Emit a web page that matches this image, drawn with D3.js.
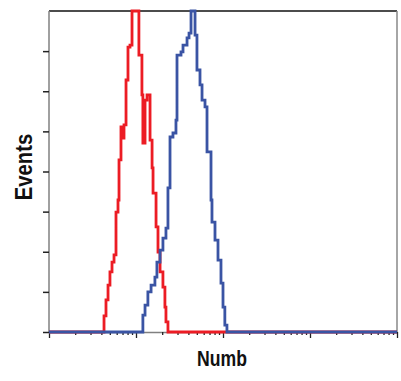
<!DOCTYPE html>
<html>
<head>
<meta charset="utf-8">
<script src="https://cdn.jsdelivr.net/npm/d3@7"></script>
<style>
  body { margin: 0; background: #fff; }
  svg { display: block; }
  .lbl { font-family: "Liberation Sans Narrow", "Liberation Sans", Arial, sans-serif; font-weight: bold; font-size: 22px; fill: #111; }
</style>
</head>
<body>
<figure id="hist" style="margin:0"></figure>
<script>
// channel values (start of each step) and event counts
const redChannel = [1, 4.29, 4.52, 4.77, 5.02, 5.30, 5.59, 5.89, 6.21, 6.38, 6.72, 7.09, 7.28, 7.68, 8.09, 8.53, 9.00,
  10.8, 11.7, 12.0, 12.7, 13.4, 14.5, 15.3, 15.7, 17.0, 17.9, 18.9, 20.4, 21.5, 22.1, 23.3, 10000];
const redCount = [0, 4.0, 8.0, 11.7, 15.0, 17.4, 19.2, 29.9, 32.9, 42.9, 51.1, 48.3, 51.6, 62.8, 71.0, 71.5, 80,
  69.0, 59.1, 47.1, 57.8, 59.1, 47.8, 40.9, 34.6, 26.2, 19.9, 15.0, 11.2, 6.2, 2.5, 0, 0];

const blueChannel = [1, 12.0, 12.7, 13.7, 14.9, 16.5, 17.4, 18.9, 20.4, 22.1, 23.3, 24.6, 26.6, 28.8, 29.6, 32.9, 34.7,
  38.6, 40.7, 42.9, 47.7, 50.2, 54.4, 57.4, 62.1, 65.5, 72.8, 74.7, 80.9, 87.6, 94.8, 100, 105, 111, 10000];
const blueCount = [0, 4.2, 6.7, 10.0, 11.7, 13.7, 17.4, 20.4, 23.4, 25.9, 35.9, 48.6, 49.6, 52.8, 69.0, 69.8, 71.5,
  73.3, 74.5, 80, 74.0, 65.3, 61.6, 57.8, 56.1, 44.9, 32.9, 27.4, 22.9, 17.9, 12.2, 6.2, 1.7, 0, 0];

const xMajor = [1, 10, 100, 1000, 10000];
const xMinor = [2, 3, 4, 5, 6, 7, 8, 9, 20, 30, 40, 50, 60, 70, 80, 90,
  200, 300, 400, 500, 600, 700, 800, 900, 2000, 3000, 4000, 5000, 6000, 7000, 8000, 9000];
const yTicks = [0, 10, 20, 30, 40, 50, 60, 70];

const W = 401, H = 381;
const mLeft = 49, mRight = 397, mTop = 11, mBottom = 332;

const svg = d3.select("#hist").append("svg")
  .attr("width", W)
  .attr("height", H);

const x = d3.scaleLog().domain([1, 10000]).range([mLeft, mRight]);
const y = d3.scaleLinear().domain([0, 80]).range([mBottom, mTop]);

// frame: top black, right grey
svg.append("line")
  .attr("x1", mLeft).attr("x2", mRight).attr("y1", mTop).attr("y2", mTop)
  .attr("stroke", "#111").attr("stroke-width", 1.5);
svg.append("line")
  .attr("x1", mRight).attr("x2", mRight).attr("y1", mTop).attr("y2", mBottom)
  .attr("stroke", "#888").attr("stroke-width", 1.5);

// Y axis
const yAxis = svg.append("g")
  .attr("transform", "translate(" + mLeft + ",0)")
  .call(d3.axisLeft(y).tickValues(yTicks).tickSize(6).tickSizeOuter(0).tickFormat(""));
yAxis.select(".domain").attr("stroke", "#808080").attr("stroke-width", 1.5)
  .attr("d", "M0," + mTop + "V" + mBottom);
yAxis.selectAll(".tick line").attr("stroke", "#222").attr("stroke-width", 1.5);

// X axis, majors and minors
const xAxis = svg.append("g")
  .attr("transform", "translate(0," + mBottom + ")")
  .call(d3.axisBottom(x).tickValues(xMajor).tickSize(6).tickSizeOuter(0).tickFormat(""));
xAxis.select(".domain").attr("stroke", "#808080").attr("stroke-width", 1.5);
xAxis.selectAll(".tick line").attr("stroke", "#222").attr("stroke-width", 1.3);

const xMinorAxis = svg.append("g")
  .attr("transform", "translate(0," + mBottom + ")")
  .call(d3.axisBottom(x).tickValues(xMinor).tickSize(3).tickSizeOuter(0).tickFormat(""));
xMinorAxis.select(".domain").remove();
xMinorAxis.selectAll(".tick line").attr("stroke", "#222").attr("stroke-width", 1.3);

// histograms
const line = d3.line()
  .x(d => x(d[0]))
  .y(d => y(d[1]))
  .curve(d3.curveStepAfter);

svg.append("path")
  .datum(d3.zip(redChannel, redCount))
  .attr("fill", "none")
  .attr("stroke", "#ec1c24")
  .attr("stroke-width", 2.8)
  .attr("d", line);

svg.append("path")
  .datum(d3.zip(blueChannel, blueCount))
  .attr("fill", "none")
  .attr("stroke", "#3a54a4")
  .attr("stroke-width", 2.8)
  .attr("d", line);

// axis labels (condensed look)
svg.append("text")
  .attr("class", "lbl")
  .attr("transform", "translate(222,366) scale(0.8,1)")
  .attr("text-anchor", "middle")
  .text("Numb");

svg.append("text")
  .attr("class", "lbl")
  .attr("transform", "translate(32,167) rotate(-90) scale(0.92,1.05)")
  .attr("text-anchor", "middle")
  .text("Events");
</script>
</body>
</html>
